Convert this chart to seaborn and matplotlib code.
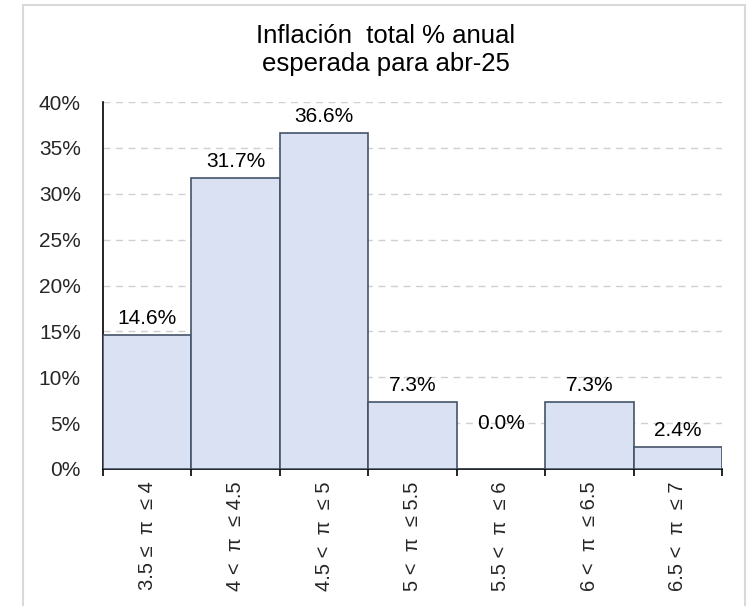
import numpy as np
import pandas as pd
import seaborn as sns
import matplotlib.pyplot as plt
from matplotlib.patches import Rectangle
from matplotlib.ticker import PercentFormatter, FixedLocator

# data
categories = ["3.5 ≤  π  ≤ 4", "4 <  π  ≤ 4.5", "4.5 <  π  ≤ 5", "5 <  π  ≤ 5.5",
              "5.5 <  π  ≤ 6", "6 <  π  ≤ 6.5", "6.5 <  π  ≤ 7"]
shares = [14.6, 31.7, 36.6, 7.3, 0.0, 7.3, 2.4]
title = "Inflación  total % anual\nesperada para abr-25"
y_max = 40

sns.set_theme(style="white")
plt.rcParams["font.family"] = ["Liberation Sans", "DejaVu Sans"]

df = pd.DataFrame({"rango": categories, "pct": shares})

fig = plt.figure(figsize=(7.56, 6.06), dpi=100)
ax = fig.add_axes([103 / 756, 1 - 469 / 606, (722 - 103) / 756, (469 - 102) / 606])

sns.barplot(data=df, x="rango", y="pct", ax=ax, width=1, saturation=1,
            color="#D9E1F2", edgecolor="#44546A", linewidth=1.2, zorder=3)

ax.set_xlim(-0.5, len(categories) - 0.5)
ax.set_ylim(0, y_max)
ax.set_yticks(np.arange(0, y_max + 1, 5))
ax.yaxis.set_major_formatter(PercentFormatter(xmax=100, decimals=0))
ax.grid(axis="y", color="#D0D0D0", linestyle=(0, (5, 4)), linewidth=1, zorder=0)
ax.set_xlabel("")
ax.set_ylabel("")

# category labels, rotated
ax.set_xticks(range(len(categories)))
ax.set_xticklabels(categories, rotation=90, ha="center", va="top", fontsize=14.5)
ax.tick_params(axis="x", length=0, pad=9)
ax.xaxis.set_minor_locator(FixedLocator(np.arange(-0.5, len(categories), 1)))
ax.tick_params(axis="x", which="minor", bottom=True, length=5, width=1.2, color="black")
ax.tick_params(axis="y", length=0, pad=16, labelsize=15)

for side in ["top", "right"]:
    ax.spines[side].set_visible(False)
for side in ["left", "bottom"]:
    ax.spines[side].set_color("black")
    ax.spines[side].set_linewidth(1.2)

# value labels above the bars
pads = [26 if v == 0 else 5 for v in shares]
for bar, v, p in zip(ax.patches, shares, pads):
    ax.annotate(f"{v:.1f}%", (bar.get_x() + bar.get_width() / 2, bar.get_height()),
                xytext=(0, p), textcoords="offset points",
                ha="center", va="bottom", fontsize=15, color="black")

fig.text(386 / 756, 1 - 50 / 606, title, ha="center", va="center",
         fontsize=18.5, linespacing=1.2, color="black")

# light frame around the chart area
fig.patches.append(Rectangle((23 / 756, -0.02), (745 - 23) / 756, 1 - 5 / 606 + 0.02,
                             transform=fig.transFigure, fill=False,
                             edgecolor="#D9D9D9", linewidth=1.5))

fig.savefig("out.png", dpi=100)
